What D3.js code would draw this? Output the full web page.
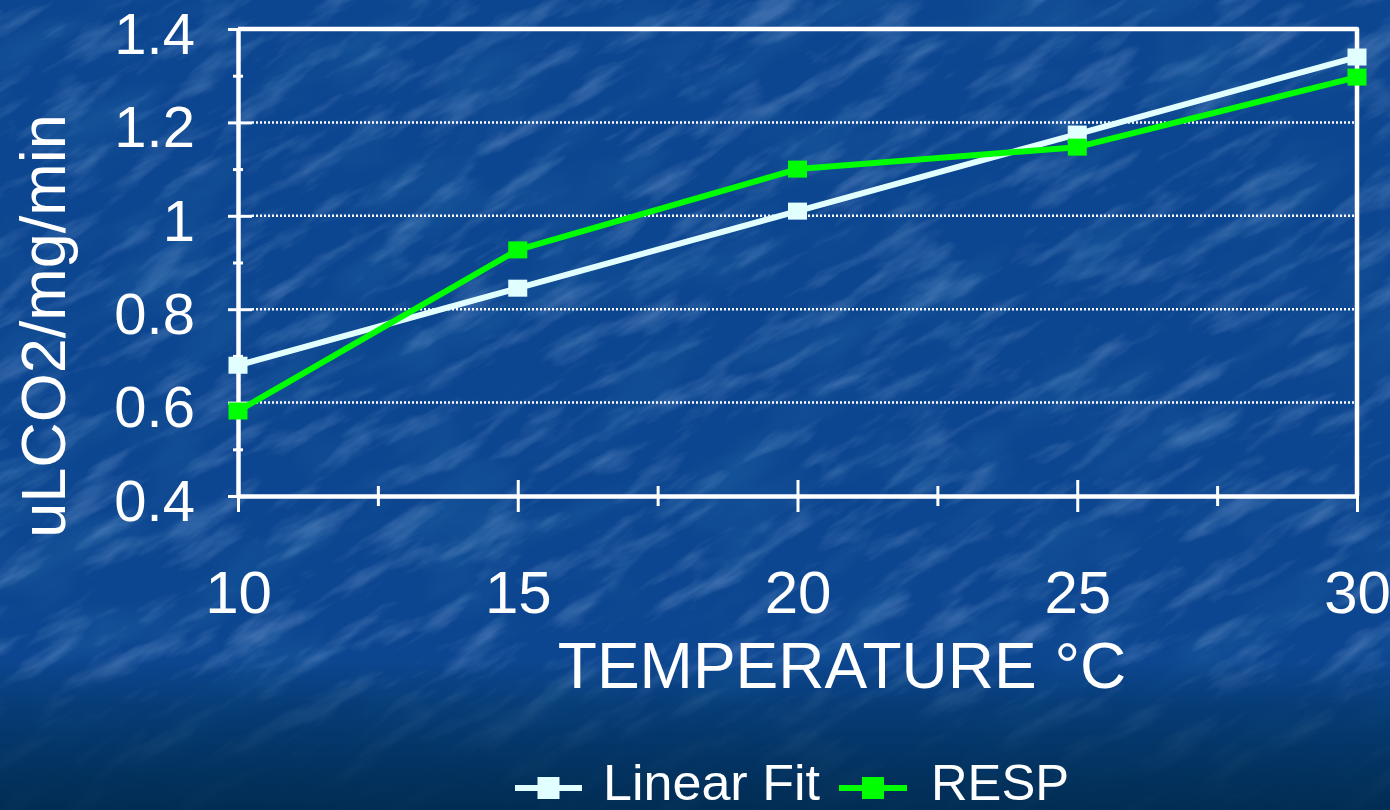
<!DOCTYPE html>
<html>
<head>
<meta charset="utf-8">
<script src="https://cdn.jsdelivr.net/npm/d3@7"></script>
<style>
  html, body { margin: 0; padding: 0; background: #0d4690; overflow: hidden; }
  svg { display: block; }
  text { font-family: "Liberation Sans", Arial, Helvetica, sans-serif; fill: #ffffff; }
</style>
</head>
<body>
<svg id="chart" width="1390" height="810"></svg>
<script>
// Respiration rate versus temperature
const temperatures = [10, 15, 20, 25, 30];
const linearFit = [0.68, 0.845, 1.01, 1.175, 1.34];
const resp = [0.582, 0.927, 1.10, 1.147, 1.297];

const yMajorTicks = [0.4, 0.6, 0.8, 1.0, 1.2, 1.4];
const yTickLabels = ["0.4", "0.6", "0.8", "1", "1.2", "1.4"];
const yMinorTicks = [0.5, 0.7, 0.9, 1.1, 1.3];
const gridValues = [0.6, 0.8, 1.0, 1.2];
const xMajorTicks = [10, 15, 20, 25, 30];
const xMinorTicks = [12.5, 17.5, 22.5, 27.5];

const seriesNames = ["Linear Fit", "RESP"];
const seriesColors = ["#e2ffff", "#00ff00"];

const W = 1390, H = 810;
const svg = d3.select("#chart");
const defs = svg.append("defs");

// ---- background: blue granite ----
function noiseFilter(id, freq, octaves, seed, matrix) {
  const f = defs.append("filter").attr("id", id)
    .attr("filterUnits", "userSpaceOnUse")
    .attr("x", -800).attr("y", -800).attr("width", 3000).attr("height", 2400);
  f.append("feTurbulence").attr("type", "fractalNoise")
    .attr("baseFrequency", freq).attr("numOctaves", octaves).attr("seed", seed);
  f.append("feColorMatrix").attr("type", "matrix").attr("values", matrix);
}
noiseFilter("streaksLight", "0.012 0.045", 4, 11,
  "0 0 0 0 0.42  0 0 0 0 0.62  0 0 0 0 0.92  2.6 0 0 0 -1.3");
noiseFilter("streaksDark", "0.008 0.02", 3, 4,
  "0 0 0 0 0.02  0 0 0 0 0.16  0 0 0 0 0.40  -2.4 0 0 0 1.25");

const fade = defs.append("linearGradient").attr("id", "bottomFade")
  .attr("x1", 0).attr("y1", 0).attr("x2", 0).attr("y2", 1);
fade.append("stop").attr("offset", "0%").attr("stop-color", "#003462").attr("stop-opacity", 0);
fade.append("stop").attr("offset", "30%").attr("stop-color", "#003462").attr("stop-opacity", 0.55);
fade.append("stop").attr("offset", "65%").attr("stop-color", "#002f58").attr("stop-opacity", 0.8);
fade.append("stop").attr("offset", "100%").attr("stop-color", "#002a4e").attr("stop-opacity", 0.92);

svg.append("rect").attr("width", W).attr("height", H).attr("fill", "#0d4690");
const tex = svg.append("g").attr("transform", `rotate(-30 ${W / 2} ${H / 2})`);
tex.append("rect").attr("x", -700).attr("y", -700).attr("width", 2800).attr("height", 2200)
  .attr("filter", "url(#streaksDark)").attr("opacity", 0.3);
tex.append("rect").attr("x", -700).attr("y", -700).attr("width", 2800).attr("height", 2200)
  .attr("filter", "url(#streaksLight)").attr("opacity", 0.28);
svg.append("rect").attr("x", 0).attr("y", 660).attr("width", W).attr("height", 150)
  .attr("fill", "url(#bottomFade)");

// ---- scales ----
const x = d3.scaleLinear().domain([10, 30]).range([238, 1357]);
const y = d3.scaleLinear().domain([0.4, 1.4]).range([496, 29]);

// gridlines
svg.append("g").selectAll("line").data(gridValues).join("line")
  .attr("x1", x(10) + 14).attr("x2", x(30))
  .attr("y1", d => y(d)).attr("y2", d => y(d))
  .attr("stroke", "#ffffff").attr("stroke-width", 2.5).attr("stroke-dasharray", "2,2");

// frame: top and right edges of the plot area
svg.append("path")
  .attr("d", `M${x(10)},${y(1.4)}H${x(30)}V${y(0.4)}`)
  .attr("fill", "none").attr("stroke", "#ffffff").attr("stroke-width", 4.5)
  .attr("stroke-linejoin", "round");

// y axis
const yAxis = svg.append("g").attr("transform", `translate(${x(10)},0)`)
  .call(d3.axisLeft(y).tickValues(yMajorTicks)
    .tickFormat((d, i) => yTickLabels[i]).tickSizeInner(10).tickSizeOuter(0).tickPadding(33));
yAxis.select(".domain").attr("stroke", "#fff").attr("stroke-width", 4.5);
yAxis.selectAll(".tick line").attr("x1", 14).attr("stroke", "#fff").attr("stroke-width", 3);
yAxis.selectAll(".tick text").attr("font-size", 58).attr("fill", "#fff")
  .attr("font-family", "Liberation Sans, Arial, sans-serif").attr("dy", "0.42em");

const yMinor = svg.append("g").attr("transform", `translate(${x(10)},0)`)
  .call(d3.axisLeft(y).tickValues(yMinorTicks).tickFormat("").tickSize(5));
yMinor.select(".domain").remove();
yMinor.selectAll(".tick line").attr("x1", 5).attr("stroke", "#fff").attr("stroke-width", 3);

// x axis
const xAxis = svg.append("g").attr("transform", `translate(0,${y(0.4)})`)
  .call(d3.axisBottom(x).tickValues(xMajorTicks).tickFormat(d3.format("d"))
    .tickSizeInner(16).tickSizeOuter(0).tickPadding(58));
xAxis.select(".domain").attr("stroke", "#fff").attr("stroke-width", 4.5);
xAxis.selectAll(".tick line").attr("y1", -16).attr("stroke", "#fff").attr("stroke-width", 3);
xAxis.selectAll(".tick text").attr("font-size", 60).attr("fill", "#fff")
  .attr("font-family", "Liberation Sans, Arial, sans-serif");

const xMinor = svg.append("g").attr("transform", `translate(0,${y(0.4)})`)
  .call(d3.axisBottom(x).tickValues(xMinorTicks).tickFormat("").tickSize(10));
xMinor.select(".domain").remove();
xMinor.selectAll(".tick line").attr("y1", -10).attr("stroke", "#fff").attr("stroke-width", 3);

// axis titles
svg.append("text").attr("x", 842).attr("y", 688).attr("text-anchor", "middle")
  .attr("font-size", 64).text("TEMPERATURE °C");
svg.append("text").attr("transform", "translate(65,326) rotate(-90)")
  .attr("text-anchor", "middle").attr("font-size", 63).text("uLCO2/mg/min");

// ---- series ----
const allSeries = [linearFit, resp];
const line = d3.line().x((d, i) => x(temperatures[i])).y(d => y(d));
allSeries.forEach((vals, s) => {
  svg.append("path").datum(vals).attr("d", line)
    .attr("fill", "none").attr("stroke", seriesColors[s])
    .attr("stroke-width", 6).attr("stroke-linejoin", "round");
  svg.append("g").selectAll("rect").data(vals).join("rect")
    .attr("x", (d, i) => x(temperatures[i]) - 9.5).attr("y", d => y(d) - 8.5)
    .attr("width", 19).attr("height", 17).attr("fill", seriesColors[s]);
});

// ---- legend ----
const legendItems = [
  { x0: 515, x1: 582, tx: 603 },
  { x0: 839, x1: 907, tx: 931 }
];
const lg = svg.append("g");
legendItems.forEach((it, s) => {
  lg.append("line").attr("x1", it.x0).attr("x2", it.x1).attr("y1", 788).attr("y2", 788)
    .attr("stroke", seriesColors[s]).attr("stroke-width", 6);
  lg.append("rect").attr("x", (it.x0 + it.x1) / 2 - 11).attr("y", 788 - 11)
    .attr("width", 22).attr("height", 22).attr("fill", seriesColors[s]);
  lg.append("text").attr("x", it.tx).attr("y", 800).attr("font-size", 50)
    .attr("textLength", s === 0 ? 217 : 138).attr("lengthAdjust", "spacingAndGlyphs")
    .text(seriesNames[s]);
});
</script>
</body>
</html>
